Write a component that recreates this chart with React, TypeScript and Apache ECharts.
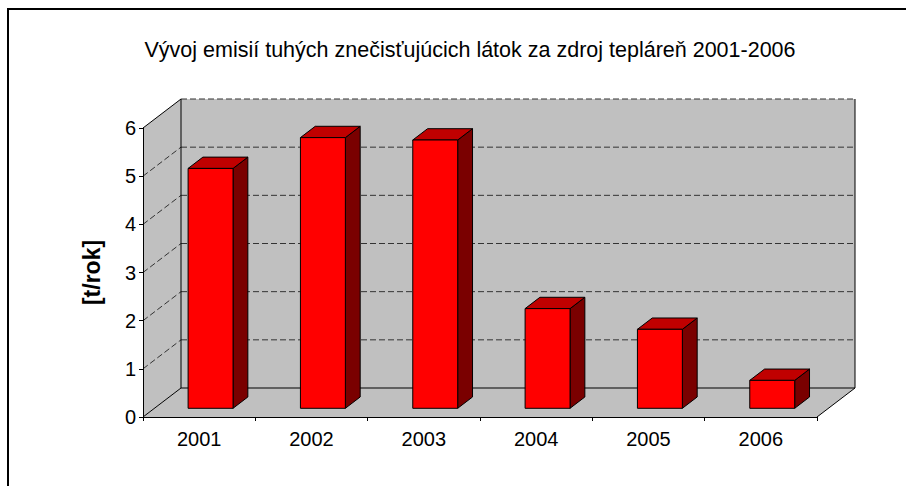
import React, { useEffect, useRef } from "react";
import * as echarts from "echarts";

const TITLE = "Vývoj emisií tuhých znečisťujúcich látok za zdroj tepláreň 2001-2006";
const Y_NAME = "[t/rok]";
const years = ["2001", "2002", "2003", "2004", "2005", "2006"];
const values = [4.98, 5.62, 5.57, 2.07, 1.64, 0.58];
const Y_MIN = 0;
const Y_MAX = 6;
const Y_STEP = 1;

const DX = 38;
const DY = -29;
const F1 = 0.3;
const F2 = 0.69;
const WALL = "#C0C0C0";
const FONT = "Liberation Sans";

export default function App() {
  const ref = useRef<HTMLDivElement>(null);
  useEffect(() => {
    if (!ref.current) return;
    const chart = echarts.init(ref.current, null, { renderer: "svg" });

    const wallsRender = (params: any, api: any) => {
      const cs = params.coordSys;
      const L = cs.x, R = cs.x + cs.width, T = cs.y, B = cs.y + cs.height;
      const solid = { stroke: "#000", lineWidth: 1, fill: null };
      const dashed = { stroke: "#333333", lineWidth: 1, lineDash: [6, 3], fill: null };
      const children: any[] = [
        { type: "polygon", shape: { points: [[L, T], [L + DX, T + DY], [L + DX, B + DY], [L, B]] }, style: { fill: WALL, stroke: null } },
        { type: "rect", shape: { x: L + DX, y: T + DY, width: R - L, height: B - T }, style: { fill: WALL, stroke: null } },
        { type: "polygon", shape: { points: [[L, B], [L + DX, B + DY], [R + DX, B + DY], [R, B]] }, style: { fill: WALL, stroke: null } },
      ];
      for (let v = Y_MIN + Y_STEP; v <= Y_MAX; v += Y_STEP) {
        const y = api.coord([0, v])[1];
        children.push({ type: "line", shape: { x1: L + DX, y1: y + DY, x2: R + DX, y2: y + DY }, style: dashed });
        children.push({ type: "line", shape: { x1: L, y1: y, x2: L + DX, y2: y + DY }, style: v < Y_MAX ? dashed : solid });
      }
      children.push({ type: "line", shape: { x1: L + DX, y1: T + DY, x2: L + DX, y2: B + DY }, style: solid });
      children.push({ type: "line", shape: { x1: R + DX, y1: T + DY, x2: R + DX, y2: B + DY }, style: solid });
      children.push({ type: "line", shape: { x1: L + DX, y1: B + DY, x2: R + DX, y2: B + DY }, style: solid });
      children.push({ type: "line", shape: { x1: L, y1: B, x2: L + DX, y2: B + DY }, style: solid });
      children.push({ type: "line", shape: { x1: R, y1: B, x2: R + DX, y2: B + DY }, style: solid });
      return { type: "group", children };
    };

    const barRender = (params: any, api: any) => {
      const i = api.value(0);
      const v = api.value(1);
      const base = api.coord([i, 0]);
      const top = api.coord([i, v]);
      const band = api.size([1, 0])[0];
      const w = band * 0.4;
      const xl = base[0] - w / 2 + F1 * DX;
      const xr = xl + w;
      const yb = base[1] + F1 * DY;
      const yt = top[1] + F1 * DY;
      const ddx = (F2 - F1) * DX;
      const ddy = (F2 - F1) * DY;
      const st = { stroke: "#000", lineWidth: 1 };
      return {
        type: "group",
        children: [
          { type: "polygon", shape: { points: [[xr, yt], [xr + ddx, yt + ddy], [xr + ddx, yb + ddy], [xr, yb]] }, style: { ...st, fill: "#7A0000" } },
          { type: "polygon", shape: { points: [[xl, yt], [xr, yt], [xr + ddx, yt + ddy], [xl + ddx, yt + ddy]] }, style: { ...st, fill: "#C00000" } },
          { type: "rect", shape: { x: xl, y: yt, width: w, height: yb - yt }, style: { ...st, fill: "#FF0000" } },
        ],
      };
    };

    chart.setOption({
      animation: false,
      backgroundColor: "#fff",
      textStyle: { fontFamily: FONT },
      graphic: [
        { type: "line", shape: { x1: 7, y1: 9, x2: 906, y2: 9 }, style: { stroke: "#000", lineWidth: 2 }, z: 100 },
        { type: "line", shape: { x1: 8, y1: 8, x2: 8, y2: 486 }, style: { stroke: "#000", lineWidth: 2 }, z: 100 },
        { type: "text", x: 470, y: 50, style: { text: TITLE, font: `21.5px "${FONT}"`, fill: "#000", align: "center", verticalAlign: "middle" } },
      ],
      grid: { left: 143, right: 89, top: 128, bottom: 69, containLabel: false },
      xAxis: {
        type: "category",
        data: years,
        axisLine: { show: true, lineStyle: { color: "#000", width: 1 } },
        axisTick: { show: true, length: 4, lineStyle: { color: "#000" } },
        axisLabel: { color: "#000", fontSize: 20, margin: 12, fontFamily: FONT },
        splitLine: { show: false },
        z: 10,
      },
      yAxis: {
        type: "value",
        min: Y_MIN,
        max: Y_MAX,
        interval: Y_STEP,
        name: Y_NAME,
        nameLocation: "middle",
        nameGap: 40,
        nameTextStyle: { color: "#000", fontSize: 23, fontWeight: "bold", fontFamily: FONT },
        axisLine: { show: true, lineStyle: { color: "#000", width: 1 } },
        axisTick: { show: true, length: 4, lineStyle: { color: "#000" } },
        axisLabel: { color: "#000", fontSize: 20, margin: 7, fontFamily: FONT },
        splitLine: { show: false },
        z: 10,
      },
      series: [
        { type: "custom", name: "walls", renderItem: wallsRender, data: [[0, 0]], clip: false, z: 1, silent: true },
        { type: "custom", name: "emise", renderItem: barRender, data: values.map((v, i) => [i, v]), clip: false, z: 5 },
      ],
    });
    return () => chart.dispose();
  }, []);
  return <div ref={ref} style={{ position: "absolute", left: 0, top: 0, width: 906, height: 486 }} />;
}
